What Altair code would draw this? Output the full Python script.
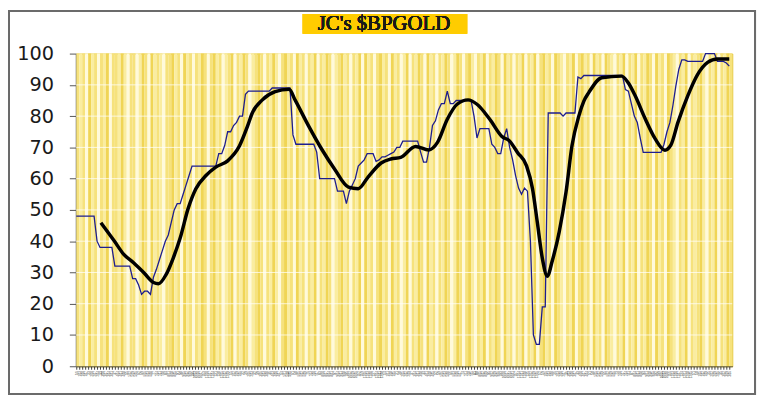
import json
import altair as alt
import pandas as pd

# ---------------- data ----------------
bp_gold = (
    [48] * 7 + [40] + [38] * 5 + [32] * 6 + [28] * 2 + [26, 23, 24, 24, 23]
    + [28.5, 31, 34, 37, 40, 42, 46, 50, 52, 52, 55, 58, 61, 64]
    + [64] * 8
    + [68, 68, 70.6, 75, 75, 77, 78, 80, 80, 87, 88]
    + [88] * 7 + [89] * 7 + [74] + [71] * 7 + [68.5] + [60] * 6 + [56] * 3
    + [52, 56, 58, 60, 64, 65, 66, 68, 68, 68, 65.5, 66, 67, 67, 67.5, 68, 68.5, 70, 70, 72]
    + [72] * 5
    + [68.5, 65.3, 65.3, 70, 77, 78.5, 82, 84, 84, 88, 84, 84]
    + [85] * 6 + [80, 73] + [76] * 4
    + [71, 70, 68, 68, 73, 76, 70, 66, 61, 57, 55, 57, 56, 40, 10, 7, 7, 19, 19]
    + [81] * 5 + [80] + [81] * 4 + [92.5, 92] + [93] * 14
    + [88.5, 88, 84, 80, 78, 73] + [68.4] * 7
    + [71, 75, 78, 83.4, 89.7, 95, 98, 98] + [97.5] * 6 + [100] * 4 + [97.5] * 3
    + [97, 96]
)

ma_week = [8.3, 12.7, 16, 19.3, 22.7, 26, 27.7, 30.3, 32.7, 35, 37.7, 40.3, 43.7, 47,
           51, 55, 57.7, 59.3, 62.7, 67, 71.7, 73.7, 78.3, 82.7, 87, 91.7, 95, 98.3,
           102.7, 106, 109.3, 114.3, 118.7, 121.7, 125, 128.3, 132, 135, 139.3, 143.3,
           146, 148.7, 151.7, 153.7, 155.3, 157, 158.7, 160.3, 162.7, 165, 167, 169.3,
           171, 172.7, 177, 183.7, 186, 188.3, 191.7, 195, 198.3, 200.3, 202.7, 206,
           209.3, 212.7, 216, 220]
ma_value = [45.9, 40.2, 35.8, 33.1, 30, 26.8, 26.4, 29.4, 34.7, 41, 50.5, 56.8, 61, 63.7,
            65.7, 70.5, 76.8, 81, 85.2, 87.8, 88.6, 85.2, 76.8, 69.4, 63.1, 57.3, 56.8, 60.5,
            65, 66.3, 66.8, 70.3, 69.2, 71.6, 79, 83.8, 85.2, 83.8, 79, 73.6,
            72, 68.3, 64.1, 56.8, 46.2, 34.6, 28.8, 33.5, 43, 55.7, 70.5, 80,
            84.8, 87.6, 92.3, 92.8, 90.6, 86.5, 79.1, 72.8, 69.1, 70.7, 78, 86.5,
            93.3, 97.2, 98.3, 98.3]

y_ticks = [0, 10, 20, 30, 40, 50, 60, 70, 80, 90, 100]
grid_levels = [10, 20, 30, 40, 50, 60, 70, 80, 90]

week_labels = [f"{d.month}/{d.day}" for d in pd.date_range("2006-01-06", periods=len(bp_gold), freq="7D")]

stripe_pattern = ("2120312021302213102201320312102231203120213202312012302132012320213102"
                  "3120312021302132012312021303120231203120130213203120213201320231021302"
                  "1320312021302130231203210213023120312032102130213021320312032102130212"
                  "3102130213201231203")
stripe_shade = [int(stripe_pattern[i % len(stripe_pattern)]) for i in range(len(bp_gold))]

title_text = "JC's $BPGOLD"

# ---------------- tables ----------------
n = len(bp_gold)
df = pd.DataFrame({"week": list(range(n)), "value": bp_gold, "shade": stripe_shade})
df["week_end"] = df["week"] + 1
df_ma = pd.DataFrame({"week": ma_week, "value": ma_value})
df_grid = pd.DataFrame({"level": grid_levels})

xscale = alt.Scale(domain=[0, n], nice=False, zero=False)
yscale = alt.Scale(domain=[0, 100], nice=False)

x_axis = alt.Axis(
    values=list(range(n)), labelExpr=json.dumps(week_labels) + "[datum.value]",
    labelFontSize=2.8, labelOverlap=False, labelAngle=-90, labelAlign="right",
    labelBaseline="middle", labelColor="#333",
    labelPadding=1.5, tickSize=3, tickColor="#111", tickWidth=0.8,
    domainColor="#333", grid=False, title=None, labelFlush=False, labelBound=False,
)
y_axis = alt.Axis(
    values=y_ticks, labelFontSize=19.5, labelFont="DejaVu Sans", labelColor="#1a1a1a",
    labelPadding=16, tickSize=7, tickColor="#555", domainColor="#555", domainWidth=2,
    grid=False, title=None, labelOverlap=False, labelFlush=False,
)

X = alt.X("week:Q", scale=xscale, axis=x_axis)
Y = lambda f: alt.Y(f, scale=yscale, axis=y_axis)

stripes = alt.Chart(df).mark_rect(strokeWidth=0).encode(
    x=X,
    x2="week_end:Q",
    y=alt.value(0),
    y2=alt.value(316),
    color=alt.Color("shade:O", scale=alt.Scale(domain=[0, 1, 2, 3],
                    range=["#FFFADA", "#FAEDA0", "#F6E27C", "#F0D555"]), legend=None),
)

grid = alt.Chart(df_grid).mark_rule(color="white", strokeWidth=1, opacity=0.75).encode(
    y=Y("level:Q"),
)

blue = alt.Chart(df).mark_line(color="#1d1d8f", strokeWidth=1.3).encode(
    x=X,
    y=Y("value:Q"),
)

black = alt.Chart(df_ma).mark_line(color="black", strokeWidth=3.5, interpolate="monotone").encode(
    x=X,
    y=Y("value:Q"),
)

title_box = alt.Chart(df_grid).mark_rect(color="#FFCC00").encode(
    x=alt.value(229), x2=alt.value(395), y=alt.value(-40), y2=alt.value(-20),
)
title = alt.Chart(df_grid).mark_text(
    text=title_text, font="Liberation Serif", fontSize=21, color="#1a1a1a",
    align="center", baseline="middle",
).encode(x=alt.value(311), y=alt.value(-29.5))

frame = alt.Chart(df_grid).mark_rect(fill=None, stroke="#6b6b6b", strokeWidth=2).encode(
    x=alt.value(-68), x2=alt.value(686), y=alt.value(-43), y2=alt.value(344),
)

chart = alt.layer(stripes, grid, blue, black, title_box, title, frame).properties(
    width=663, height=316,
    autosize=alt.AutoSizeParams(type="none"),
    padding={"left": 69, "top": 44, "right": 25, "bottom": 30},
    background="white",
).configure_view(stroke="#E2C020", strokeWidth=1)

chart.save("out.html", embed_options={"renderer": "svg", "actions": False})
